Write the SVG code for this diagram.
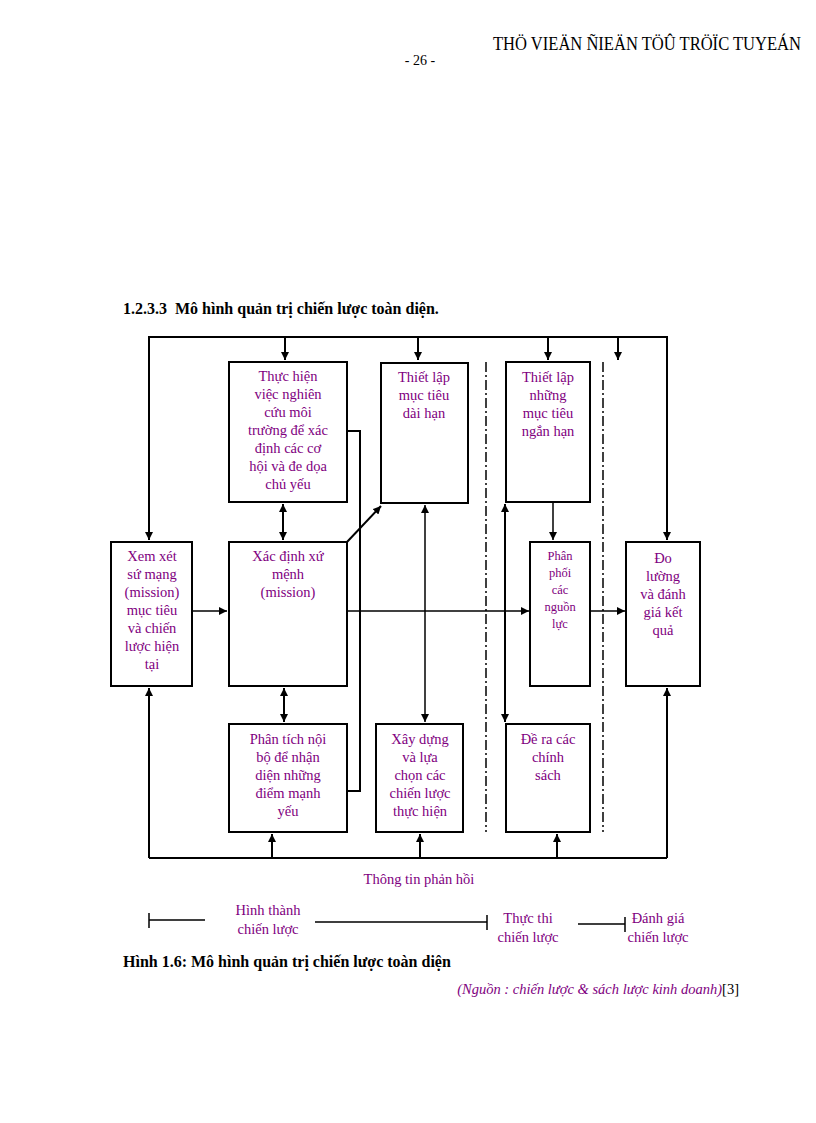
<svg xmlns="http://www.w3.org/2000/svg" width="816" height="1123" viewBox="0 0 816 1123">
<defs>
<marker id="a" viewBox="0 0 10 10" refX="10" refY="5" markerWidth="8" markerHeight="8" markerUnits="userSpaceOnUse" orient="auto-start-reverse"><path d="M0,0L10,5L0,10z" fill="#000"/></marker>
<style>
.b{fill:#fff;stroke:#000;stroke-width:2}
.t{font-family:"Liberation Serif",serif;font-size:14.5px;fill:#800080;text-anchor:middle}
.s{font-size:12.5px}
.l{stroke:#000;stroke-width:1.5;fill:none}
.th{stroke:#000;stroke-width:2;fill:none}
.d{stroke:#000;stroke-width:1.5;stroke-dasharray:10,3,2,3;fill:none}
.h{font-family:"Liberation Serif",serif;fill:#000}
</style>
</defs>
<rect width="816" height="1123" fill="#fff"/>
<text class="h" x="493" y="50" font-size="18" textLength="308" lengthAdjust="spacingAndGlyphs">THÖ VIEÄN ÑIEÄN TÖÛ TRÖÏC TUYEÁN</text>
<text class="h" x="420" y="65" font-size="14" text-anchor="middle">- 26 -</text>
<text class="h" x="123" y="314" font-size="16" font-weight="bold" xml:space="preserve">1.2.3.3  Mô hình quản trị chiến lược toàn diện.</text>
<g id="connectors">
<path class="th" d="M149,540V337H667V540"/>
<line class="th" x1="285" y1="337" x2="285" y2="360" marker-end="url(#a)"/>
<line class="th" x1="418" y1="337" x2="418" y2="360" marker-end="url(#a)"/>
<line class="th" x1="548" y1="337" x2="548" y2="360" marker-end="url(#a)"/>
<line class="th" x1="618" y1="337" x2="618" y2="360" marker-end="url(#a)"/>
<line class="th" x1="149" y1="337" x2="149" y2="540" marker-end="url(#a)"/>
<line class="th" x1="667" y1="337" x2="667" y2="540" marker-end="url(#a)"/>
<line class="l" x1="192" y1="611" x2="227" y2="611" marker-end="url(#a)"/>
<line class="th" x1="283" y1="504" x2="283" y2="540" marker-start="url(#a)" marker-end="url(#a)"/>
<line class="th" x1="284" y1="688" x2="284" y2="722" marker-start="url(#a)" marker-end="url(#a)"/>
<line class="th" x1="347" y1="542" x2="381" y2="506" marker-end="url(#a)"/>
<path class="th" d="M347,431H360V791H347"/>
<line class="l" x1="347" y1="611" x2="529" y2="611" marker-end="url(#a)"/>
<line class="l" x1="590" y1="611" x2="625" y2="611" marker-end="url(#a)"/>
<line class="l" x1="425" y1="505" x2="425" y2="722" marker-start="url(#a)" marker-end="url(#a)"/>
<line class="th" x1="505" y1="504" x2="505" y2="722" marker-start="url(#a)" marker-end="url(#a)"/>
<line class="l" x1="553" y1="502" x2="553" y2="540" marker-end="url(#a)"/>
<path class="th" d="M149,858H667"/>
<line class="th" x1="149" y1="858" x2="149" y2="688" marker-end="url(#a)"/>
<line class="th" x1="272" y1="858" x2="272" y2="834" marker-end="url(#a)"/>
<line class="th" x1="420" y1="858" x2="420" y2="834" marker-end="url(#a)"/>
<line class="th" x1="557" y1="858" x2="557" y2="834" marker-end="url(#a)"/>
<line class="th" x1="667" y1="858" x2="667" y2="688" marker-end="url(#a)"/>
<line class="d" x1="486" y1="362" x2="486" y2="832"/>
<line class="d" x1="603" y1="362" x2="603" y2="832"/>
</g>
<g id="n1"><rect class="b" x="111" y="542" width="81" height="144"/><text class="t" x="152" y="561"><tspan x="152">Xem xét</tspan><tspan x="152" dy="18">sứ mạng</tspan><tspan x="152" dy="18">(mission)</tspan><tspan x="152" dy="18">mục tiêu</tspan><tspan x="152" dy="18">và chiến</tspan><tspan x="152" dy="18">lược hiện</tspan><tspan x="152" dy="18">tại</tspan></text></g>
<g id="n2"><rect class="b" x="229" y="362" width="118" height="140"/><text class="t" x="288" y="381"><tspan x="288">Thực hiện</tspan><tspan x="288" dy="18">việc nghiên</tspan><tspan x="288" dy="18">cứu môi</tspan><tspan x="288" dy="18">trường để xác</tspan><tspan x="288" dy="18">định các cơ</tspan><tspan x="288" dy="18">hội và đe dọa</tspan><tspan x="288" dy="18">chủ yếu</tspan></text></g>
<g id="n3"><rect class="b" x="229" y="542" width="118" height="144"/><text class="t" x="288" y="561"><tspan x="288">Xác định xứ</tspan><tspan x="288" dy="18">mệnh</tspan><tspan x="288" dy="18">(mission)</tspan></text></g>
<g id="n4"><rect class="b" x="381" y="363" width="87" height="140"/><text class="t" x="424" y="382"><tspan x="424">Thiết lập</tspan><tspan x="424" dy="18">mục tiêu</tspan><tspan x="424" dy="18">dài hạn</tspan></text></g>
<g id="n5"><rect class="b" x="229" y="724" width="118" height="108"/><text class="t" x="288" y="744"><tspan x="288">Phân tích nội</tspan><tspan x="288" dy="18">bộ để nhận</tspan><tspan x="288" dy="18">diện những</tspan><tspan x="288" dy="18">điểm mạnh</tspan><tspan x="288" dy="18">yếu</tspan></text></g>
<g id="n6"><rect class="b" x="376" y="724" width="87" height="108"/><text class="t" x="420" y="744"><tspan x="420">Xây dựng</tspan><tspan x="420" dy="18">và lựa</tspan><tspan x="420" dy="18">chọn các</tspan><tspan x="420" dy="18">chiến lược</tspan><tspan x="420" dy="18">thực hiện</tspan></text></g>
<g id="n7"><rect class="b" x="506" y="362" width="84" height="140"/><text class="t" x="548" y="382"><tspan x="548">Thiết lập</tspan><tspan x="548" dy="18">những</tspan><tspan x="548" dy="18">mục tiêu</tspan><tspan x="548" dy="18">ngắn hạn</tspan></text></g>
<g id="n8"><rect class="b" x="530" y="542" width="60" height="144"/><text class="t s" x="560" y="560"><tspan x="560">Phân</tspan><tspan x="560" dy="17">phối</tspan><tspan x="560" dy="17">các</tspan><tspan x="560" dy="17">nguồn</tspan><tspan x="560" dy="17">lực</tspan></text></g>
<g id="n9"><rect class="b" x="506" y="724" width="84" height="108"/><text class="t" x="548" y="744"><tspan x="548">Đề ra các</tspan><tspan x="548" dy="18">chính</tspan><tspan x="548" dy="18">sách</tspan></text></g>
<g id="n10"><rect class="b" x="626" y="542" width="74" height="144"/><text class="t" x="663" y="563"><tspan x="663">Đo</tspan><tspan x="663" dy="18">lường</tspan><tspan x="663" dy="18">và đánh</tspan><tspan x="663" dy="18">giá kết</tspan><tspan x="663" dy="18">quả</tspan></text></g>
<text class="t" x="419" y="884">Thông tin phản hồi</text>
<g id="timeline">
<path class="l" d="M149,913V928M149,920H205M315,922H487M487,915V930M578,924H625M625,917V932"/>
<text class="t" x="268" y="915"><tspan x="268">Hình thành</tspan><tspan x="268" dy="19">chiến lược</tspan></text>
<text class="t" x="528" y="923"><tspan x="528">Thực thi</tspan><tspan x="528" dy="19">chiến lược</tspan></text>
<text class="t" x="658" y="923"><tspan x="658">Đánh giá</tspan><tspan x="658" dy="19">chiến lược</tspan></text>
</g>
<text class="h" x="123" y="967" font-size="16" font-weight="bold">Hình 1.6: Mô hình quản trị chiến lược toàn diện</text>
<text class="h" x="739" y="994" font-size="14.5" text-anchor="end"><tspan fill="#800080" font-style="italic">(Nguồn : chiến lược &amp; sách lược kinh doanh)</tspan>[3]</text>
</svg>
